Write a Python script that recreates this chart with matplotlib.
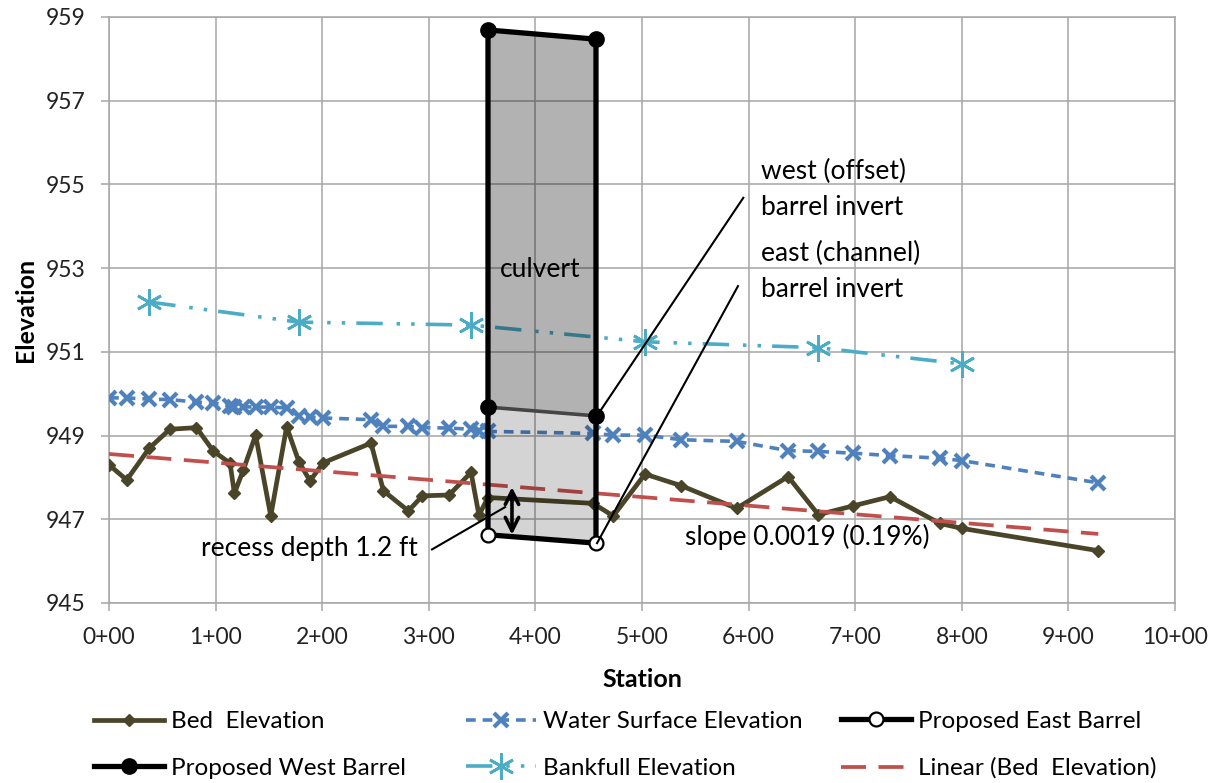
import numpy as np
import matplotlib
matplotlib.use("Agg")
import matplotlib.pyplot as plt

plt.rcParams['font.family'] = ['Lato', 'DejaVu Sans']
plt.rcParams['lines.scale_dashes'] = False

# cross sections (station in ft)
sta = [0, 16.6, 37.8, 57, 82, 97.8, 113.5, 117.6, 126, 137.5, 151.7, 166.6, 178, 188.5, 201,
       245.8, 257.4, 280.8, 294, 319, 339.6, 347, 355.5, 454, 473, 502.8, 537, 588.7, 637,
       665.4, 698, 732.6, 779.5, 800.5, 928]
bed_elev = [948.30, 947.94, 948.70, 949.15, 949.19, 948.63, 948.34, 947.62, 948.18, 949.01,
            947.08, 949.21, 948.38, 947.92, 948.35, 948.82, 947.68, 947.20, 947.56, 947.58,
            948.12, 947.10, 947.52, 947.38, 947.08, 948.08, 947.80, 947.26, 948.02, 947.11,
            947.32, 947.54, 946.90, 946.78, 946.25]
ws_elev = [949.90, 949.90, 949.87, 949.86, 949.80, 949.78, 949.70, 949.69, 949.69, 949.68,
           949.68, 949.66, 949.46, 949.44, 949.42, 949.38, 949.22, 949.22, 949.19, 949.18,
           949.15, 949.12, 949.10, 949.05, 949.01, 949.01, 948.90, 948.86, 948.64, 948.62,
           948.58, 948.52, 948.46, 948.40, 947.87]

bf_sta = [37.8, 178, 339.6, 502.8, 665.4, 800.5]
bf_elev = [952.19, 951.71, 951.64, 951.24, 951.10, 950.71]

barrel_sta = [355.5, 456.8]
west_top = [958.69, 958.47]
west_inv = [949.68, 949.47]
east_inv = [946.63, 946.43]

trend_sta = [0, 928]
trend_elev = [948.56, 946.65]

xticks = [0, 100, 200, 300, 400, 500, 600, 700, 800, 900, 1000]
xlabels = ['0+00', '1+00', '2+00', '3+00', '4+00', '5+00', '6+00', '7+00', '8+00', '9+00', '10+00']
yticks = [945, 947, 949, 951, 953, 955, 957, 959]

fig = plt.figure(figsize=(12.17, 7.83), dpi=100)
ax = fig.add_axes([0.0896, 0.2299, 0.8759, 0.7484])

# data series
bed, = ax.plot(sta, bed_elev, color='#4A4528', lw=3.4, marker='D', ms=6,
               label='Bed  Elevation', zorder=3)
ws, = ax.plot(sta, ws_elev, color='#4F81BD', lw=2.6, dashes=(7, 5), marker='x', ms=9.5,
              mew=3, label='Water Surface Elevation', zorder=3)
trend, = ax.plot(trend_sta, trend_elev, color='#C0504D', lw=2.7, dashes=(18, 9),
                 label='Linear (Bed  Elevation)', zorder=3)
bf, = ax.plot(bf_sta, bf_elev, color='#4BACC6', lw=2.6, dashes=(19, 10, 2.5, 8, 2.5, 8),
              marker=(6, 2, 0), ms=19, mew=2, label='Bankfull Elevation', zorder=3)

# culvert body (semi transparent)
ax.fill([barrel_sta[0], barrel_sta[0], barrel_sta[1], barrel_sta[1]],
        [west_inv[0], west_top[0], west_top[1], west_inv[1]],
        color='black', alpha=0.30, lw=0, zorder=4)
ax.fill([barrel_sta[0], barrel_sta[0], barrel_sta[1], barrel_sta[1]],
        [east_inv[0], west_inv[0], west_inv[1], east_inv[1]],
        color='black', alpha=0.17, lw=0, zorder=4)
ax.plot(barrel_sta, west_inv, color='#454545', lw=2.6, zorder=5)

west, = ax.plot([barrel_sta[0], barrel_sta[0], barrel_sta[1], barrel_sta[1]],
                [west_inv[0], west_top[0], west_top[1], west_inv[1]],
                color='black', lw=3.8, marker='o', ms=11, zorder=6,
                label='Proposed West Barrel')
east, = ax.plot([barrel_sta[0], barrel_sta[0], barrel_sta[1], barrel_sta[1]],
                [west_inv[0], east_inv[0], east_inv[1], west_inv[1]],
                color='black', lw=3.8, marker='o', ms=10, mfc='white', mew=1.6,
                markevery=[1, 2], zorder=6, label='Proposed East Barrel')

# annotations
ax.text(404, 952.96, 'culvert', fontsize=19, ha='center', va='center', zorder=7)
ax.text(612, 955.32, 'west (offset)', fontsize=19, va='center', zorder=7)
ax.text(612, 954.45, 'barrel invert', fontsize=19, va='center', zorder=7)
ax.text(612, 953.35, 'east (channel)', fontsize=19, va='center', zorder=7)
ax.text(612, 952.50, 'barrel invert', fontsize=19, va='center', zorder=7)
ax.plot([457.7, 595], [949.47, 954.68], color='black', lw=1.5, zorder=7)
ax.plot([457.8, 590], [946.43, 952.57], color='black', lw=1.5, zorder=7)

ax.text(86, 946.31, 'recess depth 1.2 ft', fontsize=19, va='center', zorder=7)
ax.plot([303, 371.5], [946.28, 947.29], color='black', lw=1.5, zorder=7)
ax.annotate('', xy=(378, 946.63), xytext=(378, 947.77),
            arrowprops=dict(arrowstyle='<->', color='black', lw=2.6, mutation_scale=24,
                            shrinkA=0, shrinkB=0), zorder=7)
ax.text(540, 946.58, 'slope 0.0019 (0.19%)', fontsize=19, va='center', zorder=7)

# axes styling
ax.set_xlim(0, 1000)
ax.set_ylim(945, 959)
ax.set_xticks(xticks)
ax.set_xticklabels(xlabels)
ax.set_yticks(yticks)
ax.grid(True, color='#A6A6A6', lw=1.1, zorder=0)
ax.set_axisbelow(True)
for s in ax.spines.values():
    s.set_color('#A6A6A6')
    s.set_linewidth(1.1)
ax.tick_params(axis='both', labelsize=16.5, length=6, width=1.1, color='#A6A6A6',
               pad=11, labelcolor='#222222')
ax.set_ylabel('Elevation', fontsize=18, fontweight='bold', labelpad=6)
ax.set_xlabel('Station', fontsize=18, fontweight='bold', labelpad=15)

# legend in three columns
cols = [([bed, west], 94), ([ws, bf], 466), ([east, trend], 841)]
for handles, px in cols:
    fig.legend(handles=handles, loc='center left', bbox_to_anchor=(px / 1217, 1 - 745 / 783),
               frameon=False, fontsize=17.5, handlelength=2.9, handletextpad=0.25,
               labelspacing=1.05, borderpad=0, borderaxespad=0, numpoints=1)

plt.savefig('out.png', dpi=100)
plt.close()
